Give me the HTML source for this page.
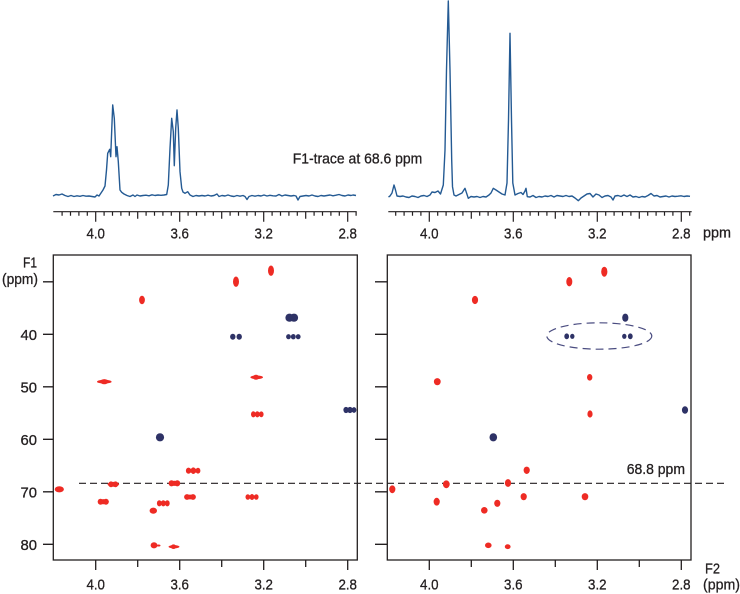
<!DOCTYPE html>
<html>
<head>
<meta charset="utf-8">
<style>
html,body{margin:0;padding:0;background:#fff;}
svg{display:block;}
text{font-family:"Liberation Sans",sans-serif;fill:#231f20;stroke:#231f20;stroke-width:0.3;}
</style>
</head>
<body>
<svg width="740" height="594" viewBox="0 0 740 594" xmlns="http://www.w3.org/2000/svg">
<path fill="none" stroke="#245a93" stroke-width="1.4" stroke-linejoin="round" d="M53,196 L56,194.5 L59,195 L62,194 L65,195.5 L68,196.5 L71,195.5 L74,196.5 L77,195.8 L80,196.3 L83,195.5 L86,196.2 L89,196 L92,196.5 L95,197 L97,195 L99,196 L101,193 L103,190 L105,186 L106.5,170 L107.7,153.3 L109.7,149.3 L110.7,156.7 L112.7,105 L114.3,118.3 L116,156.7 L117,146.7 L118.3,161.7 L120,190 L121.7,192.3 L124,194 L127,195.5 L130,196.5 L133,195 L135,196.5 L137,195 L140,196 L143,195.5 L146,195.2 L149,195.8 L152,194.8 L155,195.5 L158,195 L161,195.3 L164,195 L166.7,194.5 L168.3,185 L170,148.3 L171.7,118.3 L173.3,131.7 L174.3,165.7 L175.7,128.3 L177,110 L178.3,128.3 L180,171.7 L181.7,188.3 L183,192 L185,193.3 L187.7,191.7 L190,195 L193,196.5 L196,195.5 L199,196 L202,195.5 L205,196 L208,195.2 L211,196 L214,195.5 L217,194 L219,196.5 L222,195.5 L225,196 L228,195 L231,196 L234,196.5 L237,195.5 L240,196.2 L243,195.5 L245,196.5 L247,199.5 L249,196.5 L252,195.5 L255,196.2 L258,195.5 L261,196 L264,195 L267,196 L270,195.3 L273,195.8 L276,196 L279,194.5 L282,196 L285,195 L288,195.5 L291,196 L294,195.5 L296,196 L298,200 L300,196.5 L303,196 L306,195.5 L309,196 L312,195 L315,196 L318,196.5 L321,195.5 L324,196 L327,195.5 L330,195 L333,195.8 L336,195.2 L339,194.5 L342,195.5 L345,196 L348,195 L351,195.5 L353,195 L356,195.5"/>
<path fill="none" stroke="#245a93" stroke-width="1.4" stroke-linejoin="round" d="M388.5,197 L390,196 L392,193 L394,185 L395.5,190 L397,196 L400,196.5 L403,196 L406,197 L409,197.5 L412,196 L415,196.5 L418,197.5 L421,196 L424,195.5 L427,196.5 L430,195 L432,192 L435,192.5 L438,191 L440.5,194 L443.3,185 L445,150 L446.5,70 L448.3,1 L450,70 L451.7,160 L452.5,186.7 L454,195 L456,196 L459,194.5 L462,193 L465,188.3 L468.3,198.3 L471,196.5 L474,197 L477,196.5 L480,197.5 L483,196.5 L486,197 L489,195 L491,193 L493.3,188.3 L496,190 L499,192 L502,194 L505,195 L507,183 L508.5,120 L510,33.3 L511.5,120 L512.8,183 L515,195 L518,193.5 L521,192.5 L523,194.5 L525,191 L526,188.3 L527.3,196.7 L530,197 L533,195.5 L536,197.5 L539,196.5 L542,197 L545,196 L548,196.5 L551,195.5 L554,197 L557,195.5 L560,196 L563,196.5 L566,195.5 L569,196.5 L572,196 L575,198 L578.3,200.7 L581,198 L584,196 L587,194 L590,193.5 L593,197 L596,194 L599,195 L602,197.5 L605,196 L608,195.5 L611,197 L613,200 L615,196 L618,195.5 L621,196.5 L624,195 L627,196.5 L630,195 L633,197 L636,196.5 L639,197.5 L642,196.5 L645,197 L648,195.5 L651,193.5 L654,196 L657,195.5 L660,197 L663,196.5 L666,196 L669,197 L672,196 L675,196.5 L678,196.2 L681,195.8 L684,196.5 L687,196 L690,196.3"/>
<g stroke="#231f20" stroke-width="1.2" fill="none">
<path d="M53.3,211.7 H356.7"/>
<path d="M62.1,211.7v4 M70.5,211.7v4 M78.9,211.7v4 M87.3,211.7v4 M104.1,211.7v4 M112.5,211.7v4 M120.9,211.7v4 M129.3,211.7v4 M146.1,211.7v4 M154.5,211.7v4 M162.9,211.7v4 M171.3,211.7v4 M188.1,211.7v4 M196.5,211.7v4 M204.9,211.7v4 M213.3,211.7v4 M230.1,211.7v4 M238.5,211.7v4 M246.9,211.7v4 M255.3,211.7v4 M272.1,211.7v4 M280.5,211.7v4 M288.9,211.7v4 M297.3,211.7v4 M314.1,211.7v4 M322.5,211.7v4 M330.9,211.7v4 M339.3,211.7v4 M356.1,211.7v4"/>
<path d="M137.7,211.7v7 M221.7,211.7v7 M305.7,211.7v7"/>
<path d="M95.7,211.7v10 M179.7,211.7v10 M263.7,211.7v10 M347.7,211.7v10"/>
</g>
<g stroke="#231f20" stroke-width="1.2" fill="none" transform="translate(333.6,0)">
<path d="M54.7,211.7 H358.1"/>
<path d="M62.1,211.7v4 M70.5,211.7v4 M78.9,211.7v4 M87.3,211.7v4 M104.1,211.7v4 M112.5,211.7v4 M120.9,211.7v4 M129.3,211.7v4 M146.1,211.7v4 M154.5,211.7v4 M162.9,211.7v4 M171.3,211.7v4 M188.1,211.7v4 M196.5,211.7v4 M204.9,211.7v4 M213.3,211.7v4 M230.1,211.7v4 M238.5,211.7v4 M246.9,211.7v4 M255.3,211.7v4 M272.1,211.7v4 M280.5,211.7v4 M288.9,211.7v4 M297.3,211.7v4 M314.1,211.7v4 M322.5,211.7v4 M330.9,211.7v4 M339.3,211.7v4 M356.1,211.7v4"/>
<path d="M137.7,211.7v7 M221.7,211.7v7 M305.7,211.7v7"/>
<path d="M95.7,211.7v10 M179.7,211.7v10 M263.7,211.7v10 M347.7,211.7v10"/>
</g>
<g font-size="15" text-anchor="middle">
<text x="95.7" y="238.5" textLength="18.5" lengthAdjust="spacingAndGlyphs">4.0</text>
<text x="179.7" y="238.5" textLength="18.5" lengthAdjust="spacingAndGlyphs">3.6</text>
<text x="263.7" y="238.5" textLength="18.5" lengthAdjust="spacingAndGlyphs">3.2</text>
<text x="347.7" y="238.5" textLength="18.5" lengthAdjust="spacingAndGlyphs">2.8</text>
<text x="429.3" y="238.5" textLength="18.5" lengthAdjust="spacingAndGlyphs">4.0</text>
<text x="513.3" y="238.5" textLength="18.5" lengthAdjust="spacingAndGlyphs">3.6</text>
<text x="597.3" y="238.5" textLength="18.5" lengthAdjust="spacingAndGlyphs">3.2</text>
<text x="681.3" y="238.5" textLength="18.5" lengthAdjust="spacingAndGlyphs">2.8</text>
</g>
<text x="703" y="237.5" font-size="15" textLength="28" lengthAdjust="spacingAndGlyphs">ppm</text>
<text x="292.7" y="163.5" font-size="15" textLength="129.6" lengthAdjust="spacingAndGlyphs">F1-trace at 68.6 ppm</text>
<g stroke="#231f20" stroke-width="1.3" fill="none">
<rect x="53.3" y="255" width="304" height="305"/>
<rect x="387.3" y="255" width="303.7" height="305"/>
<path d="M43,281.8H53.3 M43,334.3H53.3 M43,386.8H53.3 M43,439.3H53.3 M43,491.8H53.3 M43,544.3H53.3"/>
<path d="M375,281.8H387.3 M375,334.3H387.3 M375,386.8H387.3 M375,439.3H387.3 M375,491.8H387.3 M375,544.3H387.3"/>
<path d="M95.7,560v10 M179.7,560v10 M263.7,560v10 M347.7,560v10 M137.7,560v7 M221.7,560v7 M305.7,560v7"/>
<path d="M429.3,560v10 M513.3,560v10 M597.3,560v10 M681.3,560v10 M471.3,560v7 M555.3,560v7 M639.3,560v7"/>
</g>
<g font-size="15" text-anchor="middle">
<text x="95.7" y="589.5" textLength="18.5" lengthAdjust="spacingAndGlyphs">4.0</text>
<text x="179.7" y="589.5" textLength="18.5" lengthAdjust="spacingAndGlyphs">3.6</text>
<text x="263.7" y="589.5" textLength="18.5" lengthAdjust="spacingAndGlyphs">3.2</text>
<text x="347.7" y="589.5" textLength="18.5" lengthAdjust="spacingAndGlyphs">2.8</text>
<text x="429.3" y="589.5" textLength="18.5" lengthAdjust="spacingAndGlyphs">4.0</text>
<text x="513.3" y="589.5" textLength="18.5" lengthAdjust="spacingAndGlyphs">3.6</text>
<text x="597.3" y="589.5" textLength="18.5" lengthAdjust="spacingAndGlyphs">3.2</text>
<text x="681.3" y="589.5" textLength="18.5" lengthAdjust="spacingAndGlyphs">2.8</text>
</g>
<g font-size="15" text-anchor="end">
<text x="37" y="340" textLength="16.5" lengthAdjust="spacingAndGlyphs">40</text>
<text x="37" y="392.5" textLength="16.5" lengthAdjust="spacingAndGlyphs">50</text>
<text x="37" y="445" textLength="16.5" lengthAdjust="spacingAndGlyphs">60</text>
<text x="37" y="497.5" textLength="16.5" lengthAdjust="spacingAndGlyphs">70</text>
<text x="37" y="550" textLength="16.5" lengthAdjust="spacingAndGlyphs">80</text>
</g>
<text x="23" y="267.5" font-size="15" textLength="14" lengthAdjust="spacingAndGlyphs">F1</text>
<text x="2" y="284" font-size="15" textLength="36" lengthAdjust="spacingAndGlyphs">(ppm)</text>
<text x="705" y="573.5" font-size="15" textLength="15" lengthAdjust="spacingAndGlyphs">F2</text>
<text x="703" y="589.5" font-size="15" textLength="37" lengthAdjust="spacingAndGlyphs">(ppm)</text>
<text x="626.7" y="474" font-size="15" textLength="58.3" lengthAdjust="spacingAndGlyphs">68.8 ppm</text>
<path d="M79,483.3 H724" stroke="#231f20" stroke-width="1.2" stroke-dasharray="7,4" fill="none"/>
<g fill="#ee2b24">
<ellipse cx="271" cy="270.7" rx="3" ry="5.2"/>
<ellipse cx="236" cy="281.7" rx="3" ry="5.2"/>
<ellipse cx="142" cy="300" rx="2.9" ry="4.2"/>
<ellipse cx="104.3" cy="381.7" rx="7.3" ry="1.9"/>
<ellipse cx="104.3" cy="381.7" rx="4" ry="2.6"/>
<ellipse cx="256.7" cy="377.3" rx="6.3" ry="1.8"/>
<ellipse cx="256" cy="377.3" rx="3" ry="2.5"/>
<ellipse cx="257.3" cy="414.3" rx="6" ry="1.9"/>
<ellipse cx="253.3" cy="414.3" rx="2.3" ry="3.1"/>
<ellipse cx="257.3" cy="414.3" rx="2.3" ry="3.1"/>
<ellipse cx="261.3" cy="414.3" rx="2.3" ry="2.9"/>
<ellipse cx="193.3" cy="470.7" rx="6.5" ry="2.1"/>
<ellipse cx="188.5" cy="470.7" rx="2.6" ry="3.1"/>
<ellipse cx="193.3" cy="470.7" rx="2.6" ry="3.3"/>
<ellipse cx="198" cy="470.7" rx="2.4" ry="2.9"/>
<ellipse cx="59.3" cy="489.3" rx="4.6" ry="3.1"/>
<ellipse cx="113.3" cy="484.3" rx="5.8" ry="2.4"/>
<ellipse cx="111" cy="484.3" rx="2.7" ry="2.9"/>
<ellipse cx="115.5" cy="484.3" rx="2.7" ry="2.9"/>
<ellipse cx="174.3" cy="483.3" rx="5.5" ry="2.6"/>
<ellipse cx="171.5" cy="483.3" rx="2.9" ry="3.1"/>
<ellipse cx="177.3" cy="483.3" rx="2.9" ry="3.1"/>
<ellipse cx="103.3" cy="501.7" rx="5.5" ry="2.6"/>
<ellipse cx="100.5" cy="501.7" rx="2.8" ry="3"/>
<ellipse cx="106" cy="501.7" rx="2.8" ry="3"/>
<ellipse cx="163.3" cy="503.3" rx="6.2" ry="1.8"/>
<ellipse cx="159.3" cy="503.3" rx="2.4" ry="3.1"/>
<ellipse cx="163.3" cy="503.3" rx="2.4" ry="3.1"/>
<ellipse cx="167.3" cy="503.3" rx="2.4" ry="3.1"/>
<ellipse cx="190" cy="497" rx="5.2" ry="2.4"/>
<ellipse cx="187" cy="497" rx="2.9" ry="2.9"/>
<ellipse cx="193" cy="497" rx="2.9" ry="2.9"/>
<ellipse cx="252" cy="497" rx="6.5" ry="1.7"/>
<ellipse cx="247.8" cy="497" rx="2.3" ry="2.8"/>
<ellipse cx="252" cy="497" rx="2.3" ry="3"/>
<ellipse cx="256.3" cy="497" rx="2.3" ry="2.8"/>
<ellipse cx="153.3" cy="510.7" rx="3.7" ry="3.1"/>
<ellipse cx="154" cy="545.3" rx="3.4" ry="3.1"/>
<ellipse cx="158.5" cy="545.5" rx="2" ry="1"/>
<ellipse cx="174" cy="546.7" rx="5.5" ry="1.6"/>
<ellipse cx="173.5" cy="546.7" rx="2.6" ry="2.3"/>
</g>
<g fill="#2e3266">
<ellipse cx="289.5" cy="317.7" rx="4.1" ry="4.1"/>
<ellipse cx="294" cy="317.7" rx="4.1" ry="4.1"/>
<ellipse cx="232.8" cy="336.7" rx="2.7" ry="3"/>
<ellipse cx="239.2" cy="336.7" rx="2.7" ry="3"/>
<ellipse cx="288.5" cy="336.7" rx="2.4" ry="2.6"/>
<ellipse cx="293.3" cy="336.7" rx="2.4" ry="2.7"/>
<ellipse cx="298.2" cy="336.7" rx="2.4" ry="2.6"/>
<ellipse cx="349.3" cy="410" rx="5" ry="2.4"/>
<ellipse cx="346" cy="410" rx="2.6" ry="3.1"/>
<ellipse cx="350" cy="410" rx="2.6" ry="3.1"/>
<ellipse cx="354" cy="410" rx="2.4" ry="2.9"/>
<ellipse cx="160" cy="437.3" rx="4.1" ry="4.1"/>
</g>
<g fill="#ee2b24">
<ellipse cx="604.3" cy="271.7" rx="3.1" ry="5"/>
<ellipse cx="569.3" cy="281.7" rx="3" ry="4.7"/>
<ellipse cx="475" cy="300" rx="3.1" ry="4.1"/>
<ellipse cx="437.3" cy="381.7" rx="3.4" ry="3.6"/>
<ellipse cx="589.7" cy="377.3" rx="2.7" ry="3.3"/>
<ellipse cx="590" cy="414" rx="2.6" ry="3.6"/>
<ellipse cx="526.7" cy="470.3" rx="3.1" ry="3.7"/>
<ellipse cx="392.3" cy="489.3" rx="3.1" ry="3.9"/>
<ellipse cx="446.3" cy="484.3" rx="3.4" ry="3.9"/>
<ellipse cx="508" cy="483" rx="3.1" ry="3.9"/>
<ellipse cx="436.7" cy="501.7" rx="3.1" ry="3.9"/>
<ellipse cx="497.3" cy="503.3" rx="3.1" ry="3.6"/>
<ellipse cx="523.7" cy="496.7" rx="3.1" ry="3.6"/>
<ellipse cx="585" cy="496.7" rx="3.3" ry="3.6"/>
<ellipse cx="484.3" cy="510.3" rx="3.3" ry="3.3"/>
<ellipse cx="488.3" cy="545.3" rx="3.3" ry="2.8"/>
<ellipse cx="507.7" cy="546.7" rx="2.9" ry="2.4"/>
</g>
<g fill="#2e3266">
<ellipse cx="625.3" cy="317.7" rx="3.1" ry="4.1"/>
<ellipse cx="566.7" cy="336.3" rx="2.4" ry="2.9"/>
<ellipse cx="572.3" cy="336.3" rx="2.2" ry="2.6"/>
<ellipse cx="624.3" cy="336.3" rx="2.2" ry="2.6"/>
<ellipse cx="630.3" cy="336.3" rx="2.4" ry="2.9"/>
<ellipse cx="685" cy="410" rx="3.1" ry="3.7"/>
<ellipse cx="493.3" cy="437.3" rx="3.8" ry="4.1"/>
</g>
<ellipse cx="599.3" cy="336" rx="52.5" ry="13.2" fill="none" stroke="#4a4c80" stroke-width="1.2" stroke-dasharray="8,5"/>
</svg>
</body>
</html>
